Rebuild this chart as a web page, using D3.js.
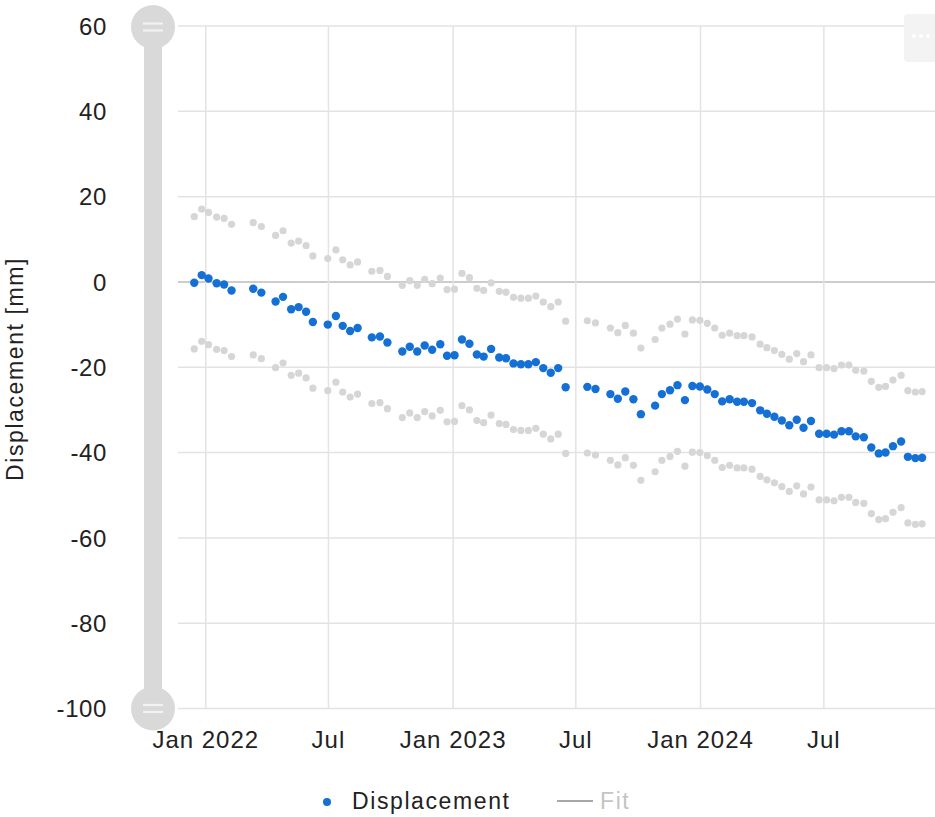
<!DOCTYPE html>
<html lang="en">
<head>
    <meta charset="UTF-8">
    <title>Displacement</title>
    <script src="https://d3js.org/d3.v7.min.js"></script>
    <style>
        body { margin: 0; background: #fff; }
        svg { display: block; font-family: "Liberation Sans", Arial, sans-serif; }
    </style>
</head>
<body>
    <svg width="935" height="817"></svg>

    <script>
        // acquisition dates
        const dates = [
            "2021-12-15","2021-12-26","2022-01-05","2022-01-17","2022-01-28","2022-02-08","2022-03-12","2022-03-24","2022-04-14","2022-04-25",
            "2022-05-07","2022-05-18","2022-05-29","2022-06-08","2022-06-30","2022-07-12","2022-07-22","2022-08-02","2022-08-13","2022-09-03",
            "2022-09-15","2022-09-26","2022-10-18","2022-10-29","2022-11-09","2022-11-20","2022-12-01","2022-12-13","2022-12-23","2023-01-03",
            "2023-01-14","2023-01-25","2023-02-05","2023-02-15","2023-02-26","2023-03-10","2023-03-20","2023-03-31","2023-04-11","2023-04-22",
            "2023-05-03","2023-05-14","2023-05-25","2023-06-05","2023-06-16","2023-07-18","2023-07-30","2023-08-21","2023-09-01","2023-09-12",
            "2023-09-24","2023-10-05","2023-10-26","2023-11-05","2023-11-17","2023-11-28","2023-12-09","2023-12-20","2023-12-31","2024-01-11",
            "2024-01-22","2024-02-02","2024-02-13","2024-02-24","2024-03-05","2024-03-17","2024-03-29","2024-04-08","2024-04-19","2024-04-30",
            "2024-05-11","2024-05-22","2024-06-01","2024-06-12","2024-06-24","2024-07-05","2024-07-16","2024-07-27","2024-08-07","2024-08-17",
            "2024-08-29","2024-09-09","2024-09-20","2024-09-30","2024-10-11","2024-10-23","2024-11-02","2024-11-13","2024-11-23"
        ];

        // displacement [mm]
        const displacement = [
            -0.2, 1.6, 0.8, -0.3, -0.6, -2.0, -1.6, -2.5, -4.6, -3.5,
            -6.4, -5.9, -7.0, -9.4, -10.0, -8.0, -10.3, -11.5, -10.8, -13.0,
            -12.8, -14.2, -16.3, -15.2, -16.3, -14.9, -15.9, -14.6, -17.3, -17.2,
            -13.5, -14.5, -17.0, -17.5, -15.7, -17.7, -17.9, -19.1, -19.3, -19.3,
            -18.8, -20.2, -21.3, -20.2, -24.7, -24.6, -25.1, -26.3, -27.4, -25.7,
            -27.5, -31.0, -29.0, -26.3, -25.4, -24.2, -27.7, -24.4, -24.5, -25.2,
            -26.3, -28.0, -27.5, -28.1, -28.1, -28.4, -30.1, -30.9, -31.6, -32.5,
            -33.6, -32.3, -34.2, -32.6, -35.6, -35.6, -35.8, -35.0, -35.0, -36.2,
            -36.4, -38.8, -40.2, -40.0, -38.5, -37.4, -41.0, -41.3, -41.2
        ];

        // upper / lower band (grey points)
        const upperBand = [
            15.3, 17.1, 16.3, 15.2, 14.9, 13.5, 13.9, 13.0, 10.9, 12.0,
            9.1, 9.6, 8.5, 6.1, 5.5, 7.5, 5.2, 4.0, 4.7, 2.5,
            2.7, 1.3, -0.8, 0.3, -0.8, 0.6, -0.4, 0.9, -1.8, -1.7,
            2.0, 1.0, -1.5, -2.0, -0.2, -2.2, -2.4, -3.6, -3.8, -3.8,
            -3.3, -4.7, -5.8, -4.7, -9.2, -9.1, -9.6, -10.8, -11.9, -10.2,
            -12.0, -15.5, -13.5, -10.8, -9.9, -8.7, -12.2, -8.9, -9.0, -9.7,
            -10.8, -12.5, -12.0, -12.6, -12.6, -12.9, -14.6, -15.4, -16.1, -17.0,
            -18.1, -16.8, -18.7, -17.1, -20.1, -20.1, -20.3, -19.5, -19.5, -20.7,
            -20.9, -23.3, -24.7, -24.5, -23.0, -21.9, -25.5, -25.8, -25.7
        ];
        const lowerBand = [
            -15.7, -13.9, -14.7, -15.8, -16.1, -17.5, -17.1, -18.0, -20.1, -19.0,
            -21.9, -21.4, -22.5, -24.9, -25.5, -23.5, -25.8, -27.0, -26.3, -28.5,
            -28.3, -29.7, -31.8, -30.7, -31.8, -30.4, -31.4, -30.1, -32.8, -32.7,
            -29.0, -30.0, -32.5, -33.0, -31.2, -33.2, -33.4, -34.6, -34.8, -34.8,
            -34.3, -35.7, -36.8, -35.7, -40.2, -40.1, -40.6, -41.8, -42.9, -41.2,
            -43.0, -46.5, -44.5, -41.8, -40.9, -39.7, -43.2, -39.9, -40.0, -40.7,
            -41.8, -43.5, -43.0, -43.6, -43.6, -43.9, -45.6, -46.4, -47.1, -48.0,
            -49.1, -47.8, -49.7, -48.1, -51.1, -51.1, -51.3, -50.5, -50.5, -51.7,
            -51.9, -54.3, -55.7, -55.5, -54.0, -52.9, -56.5, -56.8, -56.7
        ];

        const yTicks = [60, 40, 20, 0, -20, -40, -60, -80, -100];
        const xTickDates = ["2022-01-01", "2022-07-01", "2023-01-01", "2023-07-01", "2024-01-01", "2024-07-01"];
        const xTickLabels = ["Jan 2022", "Jul", "Jan 2023", "Jul", "Jan 2024", "Jul"];
        const legendLabels = ["Displacement", "Fit"];

        const parse = d3.utcParse("%Y-%m-%d");
        const svg = d3.select("svg");

        // plot area
        const plotLeft = 178, plotRight = 935, plotTop = 26, plotBottom = 708.5;

        const x = d3.scaleUtc()
            .domain([parse("2021-11-21"), parse("2024-12-12")])
            .range([plotLeft, plotRight]);
        const y = d3.scaleLinear()
            .domain([-100, 60])
            .range([plotBottom, plotTop]);

        const points = dates.map((d, i) => ({
            date: parse(d), value: displacement[i], hi: upperBand[i], lo: lowerBand[i]
        }));

        // horizontal grid
        svg.append("g").selectAll("line")
            .data(yTicks)
            .join("line")
            .attr("x1", plotLeft).attr("x2", plotRight)
            .attr("y1", d => y(d)).attr("y2", d => y(d))
            .attr("stroke", d => d === 0 ? "#bdbdbd" : "#e3e3e3")
            .attr("stroke-width", 1.5);

        // vertical grid
        svg.append("g").selectAll("line")
            .data(xTickDates)
            .join("line")
            .attr("x1", d => x(parse(d))).attr("x2", d => x(parse(d)))
            .attr("y1", plotTop).attr("y2", plotBottom)
            .attr("stroke", "#e3e3e3")
            .attr("stroke-width", 1.5);

        // y labels
        svg.append("g").selectAll("text")
            .data(yTicks)
            .join("text")
            .attr("x", 107)
            .attr("y", d => y(d))
            .attr("dy", "0.36em")
            .attr("text-anchor", "end")
            .attr("font-size", "24px")
            .attr("letter-spacing", "0.6px")
            .attr("fill", "#222")
            .text(d => d);

        // x labels
        svg.append("g").selectAll("text")
            .data(xTickDates)
            .join("text")
            .attr("x", d => x(parse(d)))
            .attr("y", 748)
            .attr("text-anchor", "middle")
            .attr("font-size", "24px")
            .attr("letter-spacing", "1px")
            .attr("fill", "#222")
            .text((d, i) => xTickLabels[i]);

        // axis title
        svg.append("text")
            .attr("transform", "translate(23,369) rotate(-90)")
            .attr("text-anchor", "middle")
            .attr("font-size", "23px")
            .attr("letter-spacing", "1.6px")
            .attr("fill", "#222")
            .text("Displacement [mm]");

        // grey band points
        const band = svg.append("g").attr("fill", "#d6d6d6");
        band.selectAll(".hi")
            .data(points)
            .join("circle")
            .attr("class", "hi")
            .attr("cx", d => x(d.date)).attr("cy", d => y(d.hi))
            .attr("r", 3.6);
        band.selectAll(".lo")
            .data(points)
            .join("circle")
            .attr("class", "lo")
            .attr("cx", d => x(d.date)).attr("cy", d => y(d.lo))
            .attr("r", 3.6);

        // displacement points
        svg.append("g").selectAll("circle")
            .data(points)
            .join("circle")
            .attr("cx", d => x(d.date)).attr("cy", d => y(d.value))
            .attr("r", 4.2)
            .attr("fill", "#1570d6");

        // range slider on the left
        const slider = svg.append("g");
        slider.append("rect")
            .attr("x", 144).attr("y", plotTop)
            .attr("width", 18).attr("height", plotBottom - plotTop)
            .attr("fill", "#d9d9d9");
        [plotTop + 1, plotBottom].forEach(cy => {
            slider.append("circle")
                .attr("cx", 153).attr("cy", cy).attr("r", 22)
                .attr("fill", "#d9d9d9");
            [-3.5, 3.5].forEach(off => {
                slider.append("line")
                    .attr("x1", 143).attr("x2", 163)
                    .attr("y1", cy + off).attr("y2", cy + off)
                    .attr("stroke", "#f2f2f2").attr("stroke-width", 2.2);
            });
        });

        // menu button (top right)
        const btn = svg.append("g");
        btn.append("rect")
            .attr("x", 904).attr("y", 14)
            .attr("width", 50).attr("height", 48).attr("rx", 4)
            .attr("fill", "#f3f3f3");
        [914, 921, 928].forEach(cx => {
            btn.append("circle").attr("cx", cx).attr("cy", 36).attr("r", 2).attr("fill", "#fff");
        });

        // legend
        const legend = svg.append("g");
        legend.append("circle")
            .attr("cx", 327).attr("cy", 802).attr("r", 4)
            .attr("fill", "#1570d6");
        legend.append("text")
            .attr("x", 352).attr("y", 809)
            .attr("font-size", "23px")
            .attr("letter-spacing", "1.6px")
            .attr("fill", "#222")
            .text(legendLabels[0]);
        legend.append("line")
            .attr("x1", 557).attr("x2", 593)
            .attr("y1", 801).attr("y2", 801)
            .attr("stroke", "#a8a8a8").attr("stroke-width", 2);
        legend.append("text")
            .attr("x", 600).attr("y", 809)
            .attr("font-size", "23px")
            .attr("letter-spacing", "1.6px")
            .attr("fill", "#c4c4c4")
            .text(legendLabels[1]);
    </script>
</body>
</html>
